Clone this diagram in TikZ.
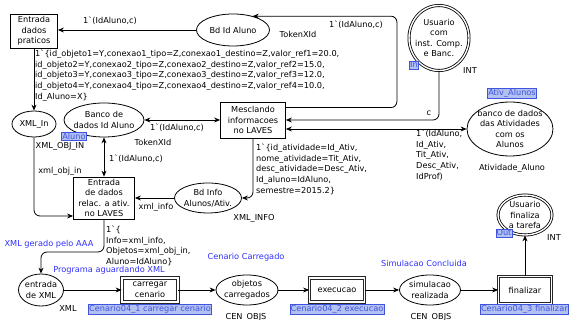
\documentclass[tikz,border=0pt]{standalone}
\usepackage{fontspec}
\setmainfont{DejaVu Sans}[Ligatures=TeXOff]
\usetikzlibrary{positioning,arrows.meta,shapes.geometric}
\definecolor{tagfill}{HTML}{B3C0F2}
\definecolor{tagline}{HTML}{3F55DD}
\definecolor{annot}{HTML}{2E2EFF}
\newcommand{\cpnsize}{\fontsize{8.2pt}{10.6pt}\selectfont}

\begin{document}
\begin{tikzpicture}[x=1pt, y=-1pt,
    every node/.style={font=\cpnsize},
    trans/.style={draw, line width=0.8pt, fill=white, align=center, inner sep=1pt},
    subst/.style={trans, draw=black!85, double=white, double distance=1.6pt},
    place/.style={draw, ellipse, line width=0.8pt, fill=white, align=center, inner xsep=-5pt, inner ysep=-2pt},
    port/.style={place, double=white, double distance=1.4pt},
    tag/.style={fill=tagfill, draw=tagline, text=tagline, inner sep=0.8pt},
    lbl/.style={inner sep=0pt, align=left},
    note/.style={inner sep=0pt, text=annot},
    arc/.style={->, line width=0.8pt, rounded corners=6pt},
    >={Stealth[length=6pt, width=5pt]}
  ]
  \useasboundingbox (0,0) rectangle (571,320);

  % places and transitions
  \node[trans, minimum width=47, minimum height=34] (praticos) at (34,31) {Entrada\\dados\\praticos};
  \node[place, minimum width=73, minimum height=32] (bdid) at (233,30) {Bd Id Aluno};
  \node[port, minimum width=60, minimum height=65] (usuario) at (439,38) {Usuario\\com\\inst. Comp.\\e Banc.};
  \node[place, minimum width=44, minimum height=26] (xmlin) at (34,124) {XML\_In};
  \node[place, minimum width=80, minimum height=34] (bancoid) at (104,120) {Banco de\\dados Id Aluno};
  \node[trans, minimum width=65, minimum height=36] (mescla) at (253,120) {Mesclando\\informacoes\\no LAVES};
  \node[place, minimum width=86, minimum height=54] (banco) at (510,129) {banco de dados\\das Atividades\\com os\\Alunos};
  \node[trans, minimum width=61, minimum height=42] (relac) at (104,198) {Entrada\\de dados\\relac. a ativ.\\no LAVES};
  \node[place, minimum width=67, minimum height=30] (bdinfo) at (208,198) {Bd Info\\Alunos/Ativ.};
  \node[port, minimum width=54, minimum height=40] (usufim) at (525,215) {Usuario\\finaliza\\a tarefa};
  \node[place, minimum width=45, minimum height=32] (entxml) at (41,290) {entrada\\de XML};
  \node[subst, minimum width=56, minimum height=24] (carregar) at (150,290) {carregar\\cenario};
  \node[place, minimum width=62, minimum height=30] (objetos) at (247,290) {objetos\\carregados};
  \node[subst, minimum width=55, minimum height=24] (execucao) at (337,290) {execucao};
  \node[place, minimum width=61, minimum height=30] (simul) at (430,290) {simulacao\\realizada};
  \node[subst, minimum width=53, minimum height=27] (finalizar) at (525,290) {finalizar};

  % arcs
  \draw[arc] (bdid) -- (praticos.east |- bdid);
  \draw[arc] ([yshift=-6pt]mescla.north east) -- ++(111,0) |- (bdid.35);
  \draw[arc] (usuario) |- (mescla.east);
  \draw[arc, <->] (mescla.east |- banco) -- (banco);
  \draw[arc, <->] (bancoid) -- (mescla);
  \draw[arc, <->] (bancoid) -- (relac);
  \draw[arc] (praticos) -- (xmlin);
  \draw[arc] (xmlin) |- ([yshift=-18pt]relac.west);
  \draw[arc] (bdinfo) -- (relac);
  \draw[arc] (mescla) |- (bdinfo);
  \draw[arc] (relac) -- ++(0,54) -| (entxml);
  \draw[arc] (entxml) -- (carregar);
  \draw[arc] (carregar) -- (objetos);
  \draw[arc] (objetos) -- (execucao);
  \draw[arc] (execucao) -- (simul);
  \draw[arc] (simul) -- (finalizar);
  \draw[arc] (finalizar) -- (usufim);

  % inscriptions
  \node[lbl] (l-bdid) at (110,21) {1`(IdAluno,c)};
  \node[lbl] (t-bdid) at (298,34) {TokenXId};
  \node[lbl] (l-mescla) at (356,25) {1`(IdAluno,c)};
  \node[lbl] (l-usu) at (429,113) {c};
  \node[lbl] (t-usu) at (470,71) {INT};
  \node[tag] (p-usu) at (414,65) {In};
  \node[tag] (p-banco) at (512,93) {Ativ\_Alunos};
  \node[lbl] (t-banco) at (512,168) {Atividade\_Aluno};
  \node[lbl, anchor=north west] (l-banco) at (416,130) {1`(IdAluno,\\Id\_Ativ,\\Tit\_Ativ,\\Desc\_Ativ,\\IdProf)};
  \node[lbl, anchor=north west] (l-praticos) at (35,50) {1`\{id\_objeto1=Y,conexao1\_tipo=Z,conexao1\_destino=Z,valor\_ref1=20.0,\\
    id\_objeto2=Y,conexao2\_tipo=Z,conexao2\_destino=Z,valor\_ref2=15.0,\\
    id\_objeto3=Y,conexao3\_tipo=Z,conexao3\_destino=Z,valor\_ref3=12.0,\\
    id\_objeto4=Y,conexao4\_tipo=Z,conexao4\_destino=Z,valor\_ref4=10.0,\\
    Id\_Aluno=X\}};
  \node[lbl] (l-bancoid) at (177,128) {1`(IdAluno,c)};
  \node[lbl] (t-bancoid) at (153,142) {TokenXId};
  \node[tag] (p-bancoid) at (74,136) {Aluno};
  \node[lbl] (t-xmlin) at (60,146) {XML\_OBJ\_IN};
  \node[lbl] (l-relac) at (136,159) {1`(IdAluno,c)};
  \node[lbl] (l-xmlin) at (60,171) {xml\_obj\_in};
  \node[lbl, anchor=north west] (l-bdinfo) at (256,144) {1`\{id\_atividade=Id\_Ativ,\\nome\_atividade=Tit\_Ativ,\\desc\_atividade=Desc\_Ativ,\\Id\_aluno=IdAluno,\\semestre=2015.2\}};
  \node[lbl] (l-info) at (156,207) {xml\_info};
  \node[lbl] (t-bdinfo) at (254,218) {XML\_INFO};
  \node[lbl, anchor=north west] (l-entxml) at (106,226) {1`\{\\Info=xml\_info,\\Objetos=xml\_obj\_in,\\Aluno=IdAluno\}};
  \node[lbl] (t-entxml) at (68,309) {XML};
  \node[tag] (p-usufim) at (504,233) {Out};
  \node[lbl] (t-usufim) at (554,238) {INT};
  \node[tag] (s-carregar) at (150,309) {Cenario04\_1 carregar cenario};
  \node[tag] (s-execucao) at (337,309) {Cenario04\_2 execucao};
  \node[tag, anchor=west] (s-finalizar) at (480,309) {Cenario04\_3 finalizar};
  \node[lbl] (t-objetos) at (246,317) {CEN\_OBJS};
  \node[lbl] (t-simul) at (431,317) {CEN\_OBJS};

  % state notes
  \node[note] (n-aaa) at (49,244) {XML gerado pelo AAA};
  \node[note] (n-aguarda) at (109,270) {Programa aguardando XML};
  \node[note] (n-carregado) at (246,257) {Cenario Carregado};
  \node[note] (n-concluida) at (424,263) {Simulacao Concluida};
\end{tikzpicture}
\end{document}
